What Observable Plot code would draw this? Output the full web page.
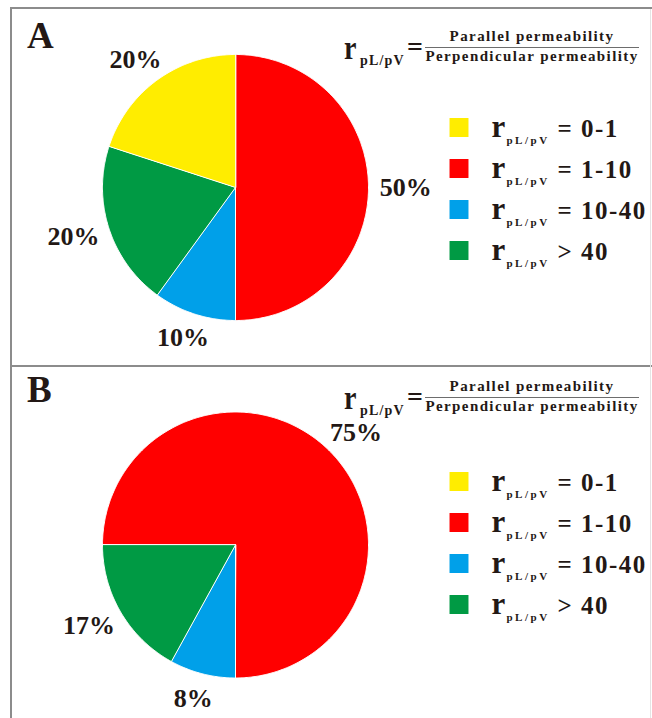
<!DOCTYPE html>
<html><head><meta charset="utf-8">
<script src="https://cdn.jsdelivr.net/npm/d3@7"></script>
<script src="https://cdn.jsdelivr.net/npm/@observablehq/plot@0.6"></script>
<style>
html,body{margin:0;padding:0;background:#fff;}
#root{position:relative;width:652px;height:718px;overflow:hidden;font-family:"Liberation Serif","Times New Roman",serif;font-weight:bold;color:#231815;}
.abs{position:absolute;white-space:nowrap;line-height:1;}
.ln{position:absolute;}
.layer{position:absolute;left:0;}
g[aria-description="sub"] text{letter-spacing:2.5px;}
g[aria-description="lbl"] text{letter-spacing:1.5px;}
</style></head><body><div id="root"></div>
<script>
// ---- data ----
const classes = ["0-1", "1-10", "10-40", ">40"];
const colors = ["#FFED00", "#FF0000", "#00A0E9", "#009A44"];
const legendLabels = ["= 0-1", "= 1-10", "= 10-40", "> 40"];
const sliceOrder = ["1-10", "10-40", ">40", "0-1"];
const panelNames = ["A", "B"];
const percentA = [20, 50, 10, 20];   // by classes
const percentB = [0, 75, 8, 17];     // by classes
const ratioSymbol = "r";
const ratioSub = "pL/pV";
const numerator = "Parallel permeability";
const denominator = "Perpendicular permeability";

// ---- layout ----
const FONT = '"Liberation Serif","Times New Roman",serif';
const INK = "#231815";
const R = 133;
const panels = [
  {name: panelNames[0], values: percentA, top: 0, height: 365, cx: 235, cy: 187, start: 0, legendTop: 100, fy: 0, letterBase: 48},
  {name: panelNames[1], values: percentB, top: 365, height: 353, cx: 235, cy: 179.5, start: -Math.PI / 2, legendTop: 453.5, fy: 350, letterBase: 402}
];

const root = document.getElementById("root");

function place(text, x, baseline, fs, style = {}) {
  const el = document.createElement("div");
  el.className = "abs";
  el.textContent = text;
  el.style.fontSize = fs + "px";
  el.style.left = x + "px";
  el.style.top = (baseline - 0.8375 * fs) + "px";
  Object.assign(el.style, style);
  root.appendChild(el);
  return el;
}
function line(x, y, w, h, color) {
  const el = document.createElement("div");
  el.className = "ln";
  Object.assign(el.style, {left: x + "px", top: y + "px", width: w + "px", height: h + "px", background: color});
  root.appendChild(el);
}
function layer(node, left, top) {
  const d = document.createElement("div");
  d.className = "layer";
  d.style.left = left + "px";
  d.style.top = top + "px";
  d.appendChild(node);
  root.appendChild(d);
}

function piePlot(p) {
  const pieData = sliceOrder.map(c => ({cat: c, value: p.values[classes.indexOf(c)]}));
  const arcs = d3.pie().sort(null).value(d => d.value)
    .startAngle(p.start).endAngle(p.start + 2 * Math.PI)(pieData)
    .filter(a => a.data.value > 0);
  const pts = [];
  for (const a of arcs) {
    pts.push({cat: a.data.cat, x: 0, y: 0});
    const n = Math.max(2, Math.ceil((a.endAngle - a.startAngle) / (Math.PI / 360)));
    for (let i = 0; i <= n; i++) {
      const t = a.startAngle + (a.endAngle - a.startAngle) * i / n;
      pts.push({cat: a.data.cat, x: Math.sin(t), y: Math.cos(t)});
    }
  }
  const labels = arcs.map(a => {
    const m = (a.startAngle + a.endAngle) / 2;
    return {text: a.data.value + "%", x: 1.28 * Math.sin(m), y: 1.19 * Math.cos(m)};
  });
  return Plot.plot({
    width: 652, height: p.height, margin: 0,
    style: {background: "transparent", overflow: "visible", fontFamily: FONT},
    x: {domain: [-1, 1], range: [p.cx - R, p.cx + R], axis: null},
    y: {domain: [-1, 1], range: [p.cy + R, p.cy - R], axis: null},
    color: {domain: classes, range: colors},
    marks: [
      Plot.line(pts, {x: "x", y: "y", z: "cat", fill: "cat", stroke: "white", strokeWidth: 1, curve: "linear-closed"}),
      Plot.text(labels, {x: "x", y: "y", text: "text", fontSize: 26, fontWeight: "bold", fill: INK})
    ]
  });
}

function legendPlot() {
  const rows = classes.map((c, i) => ({cat: c, label: legendLabels[i]}));
  return Plot.plot({
    width: 212, height: 180, margin: 0,
    style: {background: "transparent", overflow: "visible", fontFamily: FONT},
    x: {axis: null},
    y: {type: "point", padding: 0, domain: classes, range: [26.5, 150], axis: null},
    color: {domain: classes, range: colors},
    marks: [
      Plot.dot(rows, {y: "cat", frameAnchor: "left", dx: 18.5, symbol: "square", r: 10.7, fill: "cat"}),
      Plot.text(rows, {y: "cat", frameAnchor: "left", dx: 51, dy: 0, text: () => ratioSymbol, fontSize: 31, fontWeight: "bold", textAnchor: "start", fill: INK}),
      Plot.text(rows, {y: "cat", frameAnchor: "left", dx: 66, dy: 12.5, text: () => ratioSub, fontSize: 11, fontWeight: "bold", textAnchor: "start", fill: INK, ariaDescription: "sub"}),
      Plot.text(rows, {y: "cat", frameAnchor: "left", dx: 117, dy: 1.5, text: "label", fontSize: 25, fontWeight: "bold", textAnchor: "start", fill: INK, ariaDescription: "lbl"})
    ]
  });
}

// frame lines
line(10, 7, 642, 2, "#8c8c8c");
line(10, 7, 2, 711, "#8c8c8c");
line(10, 365, 642, 2, "#8c8c8c");
line(650, 9, 1, 709, "#e4e4e4");

for (const p of panels) {
  layer(piePlot(p), 0, p.top);
  layer(legendPlot(), 440, p.legendTop);
  place(p.name, 27, p.letterBase, 37);
  const fy = p.fy;
  place(ratioSymbol, 344, 60 + fy, 33, {transform: "scaleX(0.85)", transformOrigin: "left"});
  place(ratioSub, 360, 66 + fy, 14, {letterSpacing: "1.2px"});
  place("=", 407, 56 + fy, 28);
  line(425, 47 + fy, 214, 1, "#6d6d6d");
  place(numerator, 425, 42 + fy, 15, {width: "214px", textAlign: "center", letterSpacing: "1.4px"});
  place(denominator, 425, 62 + fy, 15, {width: "214px", textAlign: "center", letterSpacing: "1.4px"});
}
</script>
</body></html>
